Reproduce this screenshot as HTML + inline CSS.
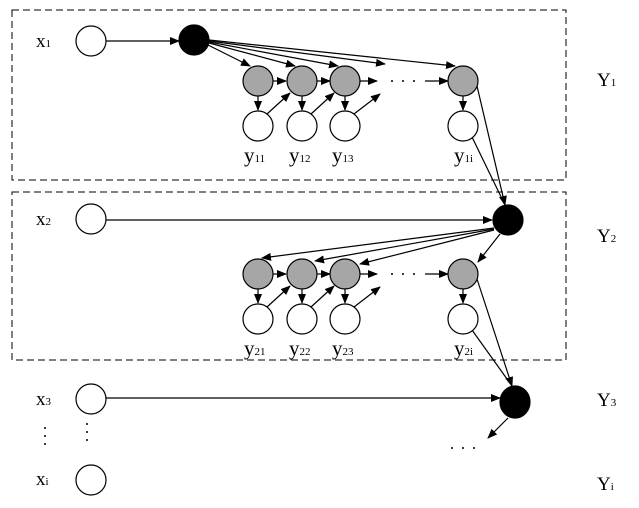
<!DOCTYPE html>
<html><head><style>body{margin:0;background:#fff}svg{display:block}text{font-family:"Liberation Serif",serif;fill:#000}</style></head>
<body>
<svg width="639" height="508" viewBox="0 0 639 508" xmlns="http://www.w3.org/2000/svg">
<defs><marker id="a" markerWidth="10" markerHeight="8" refX="9" refY="4" orient="auto" markerUnits="userSpaceOnUse"><path d="M0,0 L10,4 L0,8z" fill="#000"/></marker></defs>
<g fill="none" stroke="#000" stroke-dasharray="7,4" stroke-width="1">
<rect x="12" y="10" width="554" height="170"/>
<rect x="12" y="192" width="554" height="168"/>
</g>
<g stroke="#000" stroke-width="1.2" fill="none" marker-end="url(#a)">
<line x1="106" y1="41" x2="179" y2="41"/>
<line x1="208" y1="45" x2="250" y2="66"/>
<line x1="209" y1="43" x2="295" y2="66"/>
<line x1="209" y1="42" x2="338" y2="66"/>
<line x1="209" y1="41" x2="385" y2="64"/>
<line x1="209" y1="40" x2="455" y2="66"/>
<line x1="273" y1="81" x2="286" y2="81"/>
<line x1="317" y1="81" x2="330" y2="81"/>
<line x1="360" y1="81" x2="377" y2="81"/>
<line x1="425" y1="81" x2="448" y2="81"/>
<line x1="258" y1="96" x2="258" y2="110"/>
<line x1="302" y1="96" x2="302" y2="110"/>
<line x1="345" y1="96" x2="345" y2="110"/>
<line x1="463" y1="96" x2="463" y2="110"/>
<line x1="267" y1="114" x2="290" y2="93"/>
<line x1="311" y1="114" x2="334" y2="93"/>
<line x1="354" y1="114" x2="380" y2="94"/>
<line x1="477" y1="86" x2="505" y2="205"/>
<line x1="106" y1="220" x2="492" y2="220"/>
<line x1="494" y1="228" x2="262" y2="258"/>
<line x1="494" y1="229" x2="315" y2="261"/>
<line x1="494" y1="230" x2="360" y2="264"/>
<line x1="500" y1="234" x2="478" y2="262"/>
<line x1="273" y1="274" x2="286" y2="274"/>
<line x1="317" y1="274" x2="330" y2="274"/>
<line x1="360" y1="274" x2="377" y2="274"/>
<line x1="425" y1="274" x2="448" y2="274"/>
<line x1="258" y1="289" x2="258" y2="303"/>
<line x1="302" y1="289" x2="302" y2="303"/>
<line x1="345" y1="289" x2="345" y2="303"/>
<line x1="463" y1="289" x2="463" y2="303"/>
<line x1="267" y1="307" x2="290" y2="286"/>
<line x1="311" y1="307" x2="334" y2="286"/>
<line x1="354" y1="307" x2="380" y2="287"/>
<line x1="477" y1="279" x2="512" y2="386"/>
<line x1="106" y1="398" x2="500" y2="398"/>
<line x1="508" y1="418" x2="488" y2="438"/>
</g>
<g stroke="#000" stroke-width="1.2">
<line x1="472" y1="137" x2="505" y2="205"/>
<line x1="472" y1="330" x2="512" y2="386"/>
</g>
<g stroke="#000" stroke-width="1.2">
<circle cx="91" cy="41" r="15" fill="#fff"/>
<circle cx="194" cy="40" r="15" fill="#000"/>
<circle cx="258" cy="81" r="15" fill="#a6a6a6"/>
<circle cx="302" cy="81" r="15" fill="#a6a6a6"/>
<circle cx="345" cy="81" r="15" fill="#a6a6a6"/>
<circle cx="463" cy="81" r="15" fill="#a6a6a6"/>
<circle cx="258" cy="126" r="15" fill="#fff"/>
<circle cx="302" cy="126" r="15" fill="#fff"/>
<circle cx="345" cy="126" r="15" fill="#fff"/>
<circle cx="463" cy="126" r="15" fill="#fff"/>
<circle cx="91" cy="219" r="15" fill="#fff"/>
<circle cx="508" cy="220" r="15" fill="#000"/>
<circle cx="258" cy="274" r="15" fill="#a6a6a6"/>
<circle cx="302" cy="274" r="15" fill="#a6a6a6"/>
<circle cx="345" cy="274" r="15" fill="#a6a6a6"/>
<circle cx="463" cy="274" r="15" fill="#a6a6a6"/>
<circle cx="258" cy="319" r="15" fill="#fff"/>
<circle cx="302" cy="319" r="15" fill="#fff"/>
<circle cx="345" cy="319" r="15" fill="#fff"/>
<circle cx="463" cy="319" r="15" fill="#fff"/>
<circle cx="91" cy="399" r="15" fill="#fff"/>
<ellipse cx="515" cy="402" rx="15" ry="16" fill="#000"/>
<circle cx="91" cy="480" r="15" fill="#fff"/>
</g>
<g font-size="19">
<text x="36" y="47">x<tspan font-size="11">1</tspan></text>
<text x="36" y="225">x<tspan font-size="11">2</tspan></text>
<text x="36" y="405">x<tspan font-size="11">3</tspan></text>
<text x="36" y="485">x<tspan font-size="11">i</tspan></text>
<text x="597" y="86">Y<tspan font-size="11">1</tspan></text>
<text x="597" y="242">Y<tspan font-size="11">2</tspan></text>
<text x="597" y="406">Y<tspan font-size="11">3</tspan></text>
<text x="597" y="490">Y<tspan font-size="11">i</tspan></text>
</g>
<g font-size="21">
<text x="244" y="162">y<tspan font-size="11">11</tspan></text>
<text x="289" y="162">y<tspan font-size="11">12</tspan></text>
<text x="332" y="162">y<tspan font-size="11">13</tspan></text>
<text x="454" y="162">y<tspan font-size="11">1i</tspan></text>
<text x="244" y="355">y<tspan font-size="11">21</tspan></text>
<text x="289" y="355">y<tspan font-size="11">22</tspan></text>
<text x="332" y="355">y<tspan font-size="11">23</tspan></text>
<text x="454" y="355">y<tspan font-size="11">2i</tspan></text>
</g>
<g fill="#000">
<circle cx="392" cy="81" r="1"/><circle cx="403" cy="81" r="1"/><circle cx="414" cy="81" r="1"/>
<circle cx="392" cy="274" r="1"/><circle cx="403" cy="274" r="1"/><circle cx="414" cy="274" r="1"/>
<circle cx="452" cy="448" r="1"/><circle cx="463" cy="448" r="1"/><circle cx="474" cy="448" r="1"/>
<circle cx="45" cy="428" r="1"/><circle cx="45" cy="436" r="1"/><circle cx="45" cy="444" r="1"/>
<circle cx="87" cy="424" r="1"/><circle cx="87" cy="432" r="1"/><circle cx="87" cy="440" r="1"/>
</g>
</svg>
</body></html>
